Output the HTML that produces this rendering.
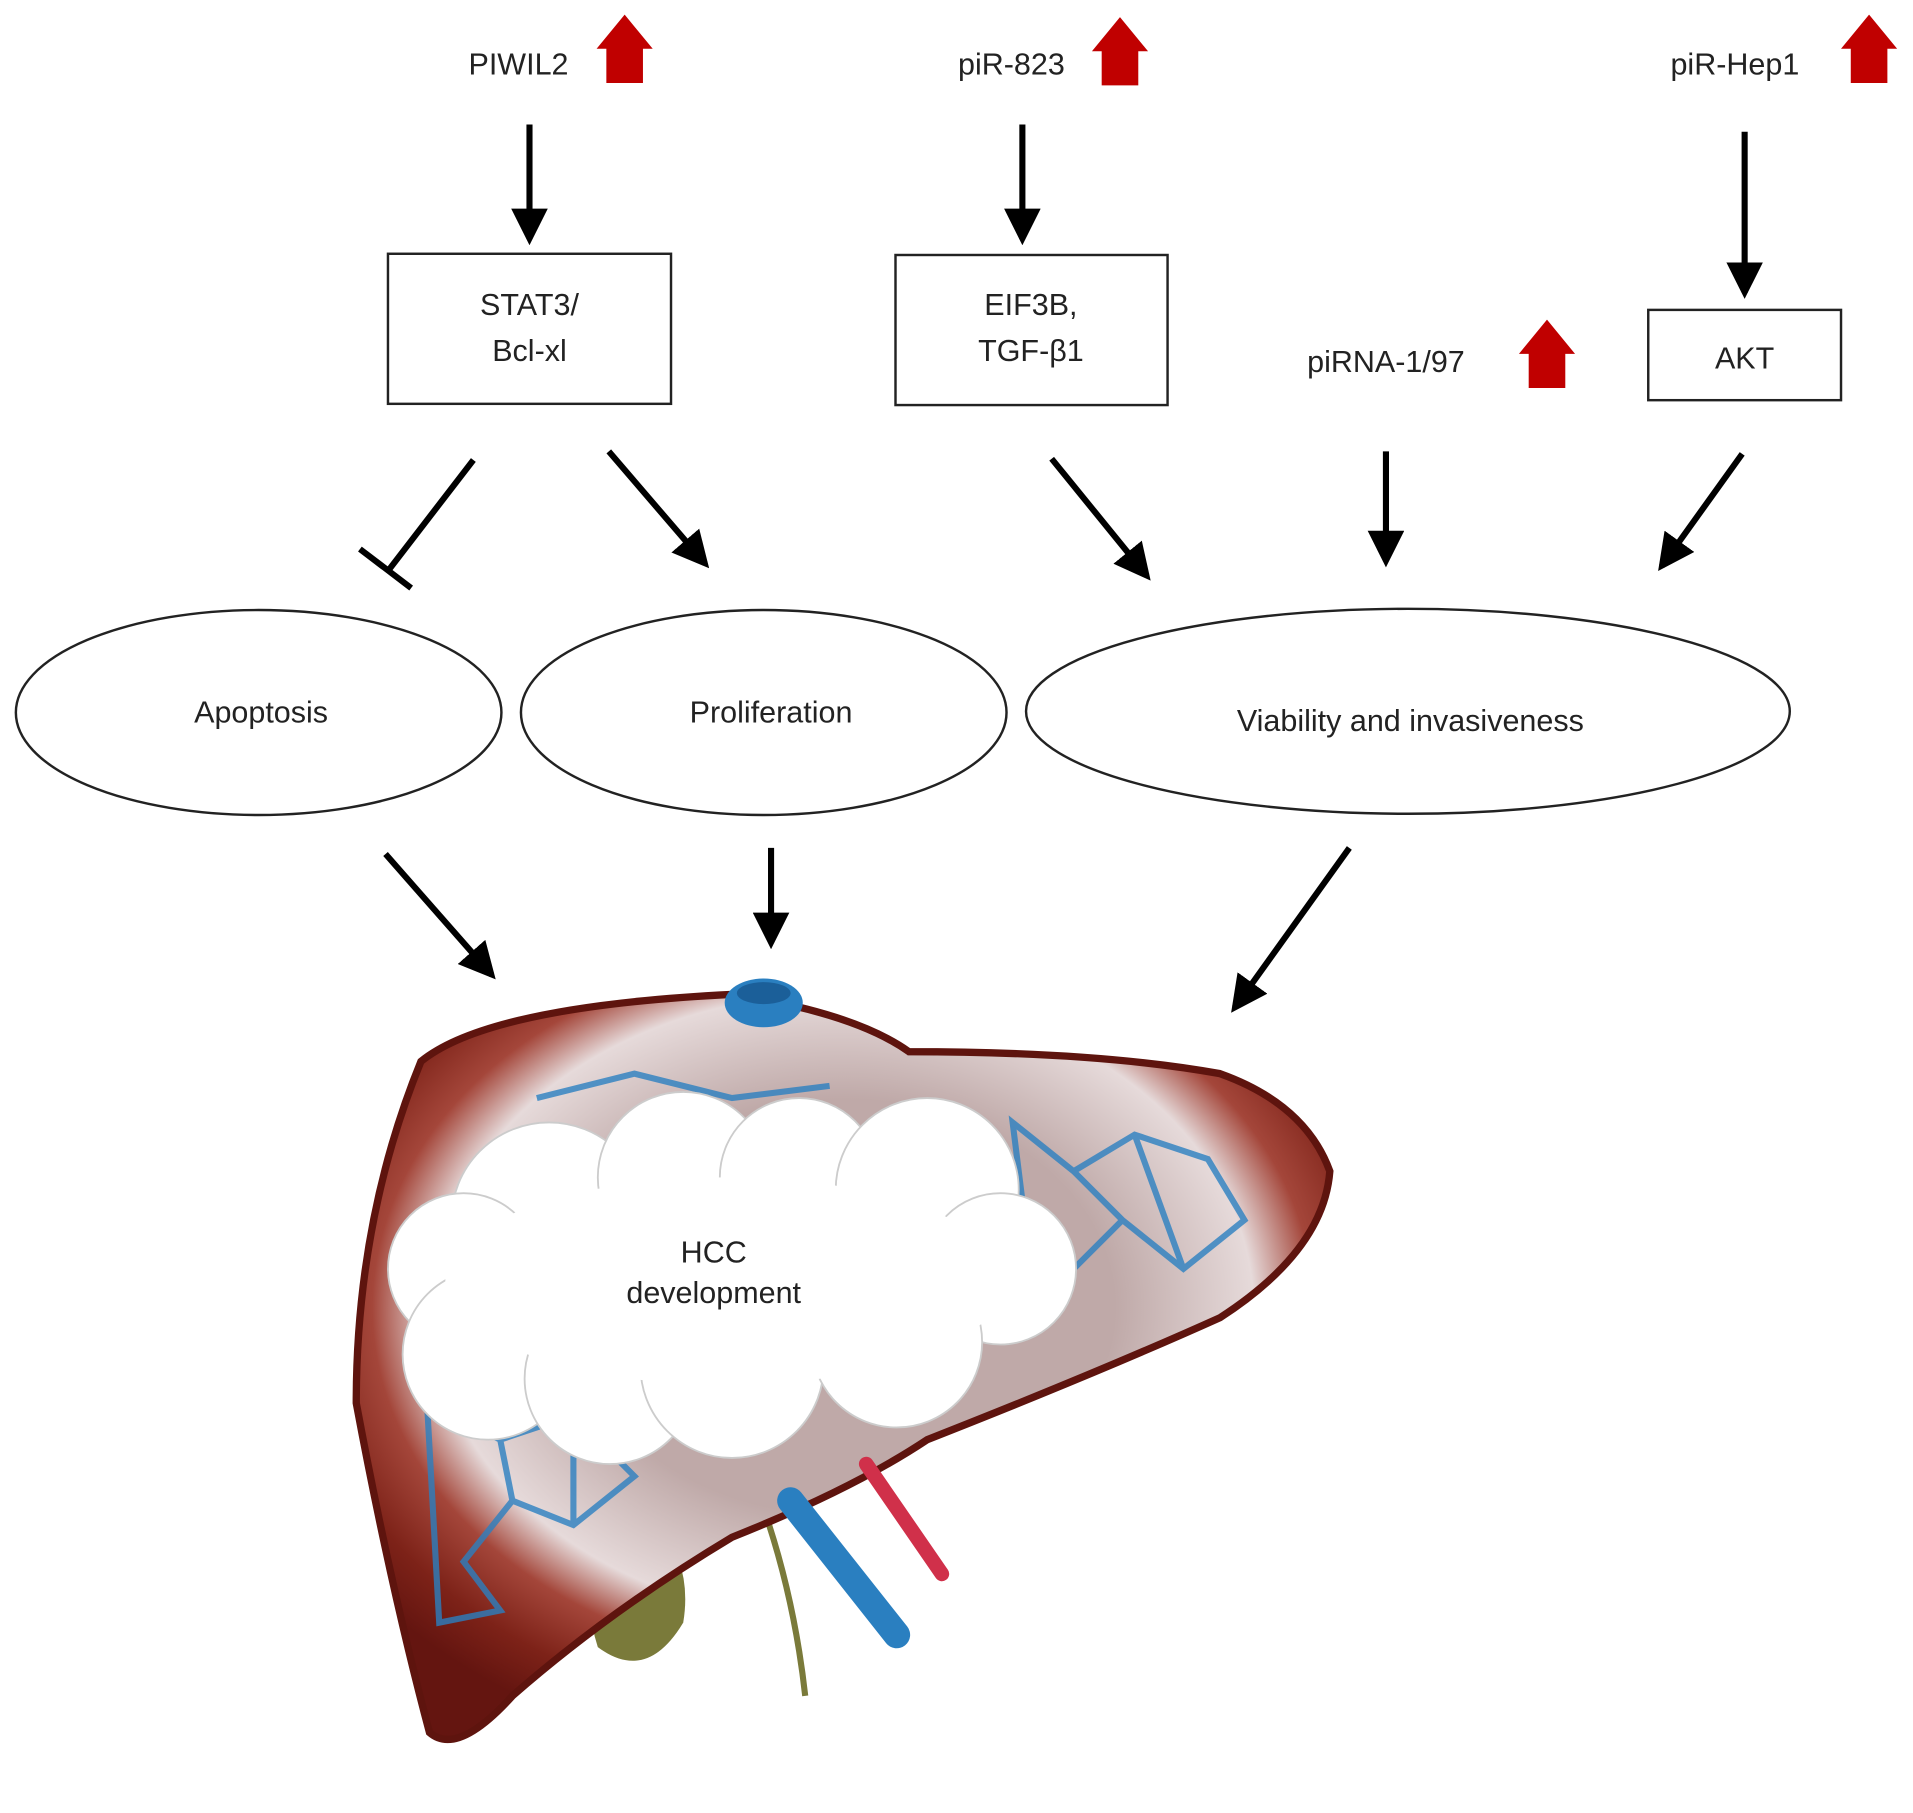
<!DOCTYPE html>
<html><head><meta charset="utf-8"><style>html,body{margin:0;padding:0;background:#fff}svg{display:block}</style></head>
<body>
<svg width="1913" height="1813" viewBox="0 0 1568 1486" preserveAspectRatio="none" xmlns="http://www.w3.org/2000/svg" font-family="Liberation Sans, sans-serif">
<defs>
<marker id="ah" markerWidth="6" markerHeight="6" refX="5" refY="3" orient="auto" markerUnits="strokeWidth"><path d="M0,0 L6,3 L0,6 z" fill="#000"/></marker>
<radialGradient id="lg" cx="0.5" cy="0.42" r="0.62"><stop offset="0.45" stop-color="#bfa9a8"/><stop offset="0.68" stop-color="#e6dada"/><stop offset="0.78" stop-color="#a4463a"/><stop offset="0.9" stop-color="#7d2218"/><stop offset="1" stop-color="#641510"/></radialGradient>
</defs>
<g fill="#c00000">
<path d="M497,68 V40 H489 L512,12 L535,40 H527 V68 Z"/>
<path d="M903,70 V42 H895 L918,14 L941,42 H933 V70 Z"/>
<path d="M1517,68 V40 H1509 L1532,12 L1555,40 H1547 V68 Z"/>
<path d="M1253,318 V290 H1245 L1268,262 L1291,290 H1283 V318 Z"/>
</g>
<g font-size="25" fill="#222" text-anchor="middle">
<text x="425" y="61">PIWIL2</text>
<text x="829" y="61">piR-823</text>
<text x="1422" y="61">piR-Hep1</text>
<text x="1136" y="305">piRNA-1/97</text>
<text x="434" y="258">STAT3/</text>
<text x="434" y="296">Bcl-xl</text>
<text x="845" y="258">EIF3B,</text>
<text x="845" y="296">TGF-β1</text>
<text x="1430" y="302">AKT</text>
<text x="214" y="592">Apoptosis</text>
<text x="632" y="592">Proliferation</text>
<text x="1156" y="599">Viability and invasiveness</text>
</g>
<g fill="none" stroke="#222" stroke-width="2">
<rect x="318" y="208" width="232" height="123"/>
<rect x="734" y="209" width="223" height="123"/>
<rect x="1351" y="254" width="158" height="74"/>
<ellipse cx="212" cy="584" rx="199" ry="84"/>
<ellipse cx="626" cy="584" rx="199" ry="84"/>
<ellipse cx="1154" cy="583" rx="313" ry="84"/>
</g>
<g stroke="#000" stroke-width="5" fill="none" marker-end="url(#ah)">
<line x1="434" y1="102" x2="434" y2="196"/>
<line x1="838" y1="102" x2="838" y2="196"/>
<line x1="1430" y1="108" x2="1430" y2="240"/>
<line x1="499" y1="370" x2="578" y2="462"/>
<line x1="862" y1="376" x2="940" y2="472"/>
<line x1="1136" y1="370" x2="1136" y2="460"/>
<line x1="1428" y1="372" x2="1362" y2="464"/>
<line x1="316" y1="700" x2="403" y2="799"/>
<line x1="632" y1="695" x2="632" y2="773"/>
<line x1="1106" y1="695" x2="1012" y2="826"/>
</g>
<g stroke="#000" stroke-width="5">
<line x1="388" y1="377" x2="318" y2="468"/>
<line x1="295" y1="450" x2="337" y2="482"/>
</g>
<path d="M520,1230 Q470,1290 490,1350 Q530,1380 560,1330 Q570,1270 520,1230Z" fill="#7a7a3a"/>
<path d="M620,1220 Q650,1300 660,1390" stroke="#7a7a3a" stroke-width="5" fill="none"/>
<path d="M345,870 Q400,825 600,815 Q700,830 745,862 Q900,862 1000,880 Q1070,905 1090,960 Q1085,1025 1000,1080 Q900,1125 760,1180 Q700,1220 600,1260 Q500,1320 420,1390 Q375,1440 352,1420 Q320,1300 292,1150 Q292,1000 345,870Z" fill="url(#lg)" stroke="#5e140e" stroke-width="6"/>
<g stroke="#2a7fc0" stroke-width="5" fill="none" opacity="0.8">
<path d="M830,920 L880,960 L930,930 L990,950 L1020,1000 L970,1040 L920,1000 L880,1040 L840,1000 Z M880,960 L920,1000 M930,930 L970,1040"/>
<path d="M350,1150 L410,1180 L470,1160 L520,1210 L470,1250 L420,1230 L380,1280 L410,1320 L360,1330 Z M410,1180 L420,1230 M470,1160 L470,1250"/>
<path d="M440,900 L520,880 L600,900 L680,890"/>
</g>
<path d="M648,1230 L735,1340" stroke="#2a7fc0" stroke-width="22" stroke-linecap="round"/>
<path d="M710,1200 L772,1290" stroke="#d0304a" stroke-width="12" stroke-linecap="round"/>
<ellipse cx="626" cy="822" rx="32" ry="20" fill="#2a7fc0"/>
<ellipse cx="626" cy="814" rx="22" ry="9" fill="#1b5f99"/>
<g fill="#fff" stroke="#ccc" stroke-width="1.5">
<circle cx="450" cy="1000" r="80"/>
<circle cx="560" cy="965" r="70"/>
<circle cx="655" cy="965" r="65"/>
<circle cx="760" cy="975" r="75"/>
<circle cx="820" cy="1040" r="62"/>
<circle cx="380" cy="1040" r="62"/>
<circle cx="400" cy="1110" r="70"/>
<circle cx="500" cy="1130" r="70"/>
<circle cx="600" cy="1120" r="75"/>
<circle cx="735" cy="1100" r="70"/>
</g>
<ellipse cx="595" cy="1050" rx="230" ry="85" fill="#fff"/>
<g font-size="25" fill="#222" text-anchor="middle">
<text x="585" y="1035">HCC</text>
<text x="585" y="1068">development</text>
</g>
</svg>
</body></html>
